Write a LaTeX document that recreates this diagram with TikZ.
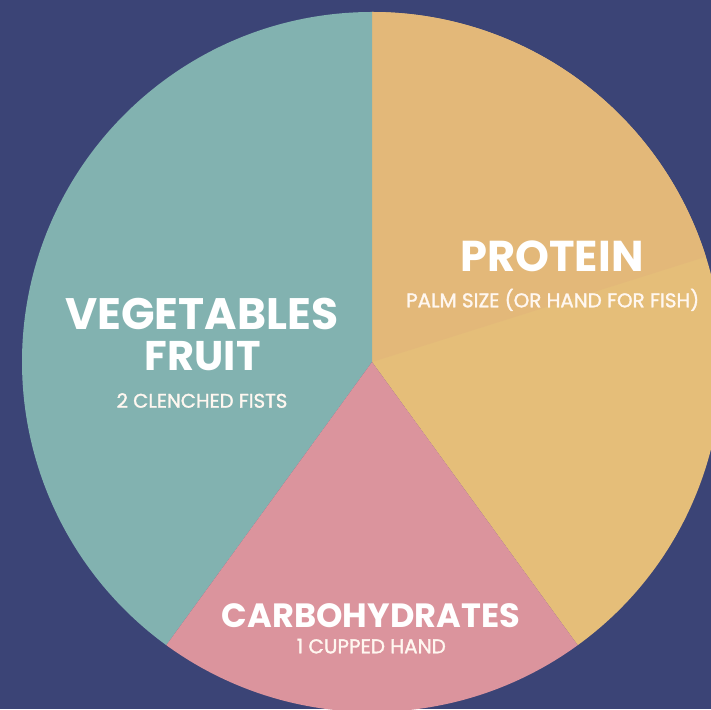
\documentclass[tikz,border=0pt]{standalone}
\usepackage{graphicx}
\usepackage{fontspec}
\setmainfont{Poppins}
\newfontfamily\subfont[FakeBold=1.6]{Poppins}
\definecolor{bgnavy}{RGB}{59,68,118}
\definecolor{vegteal}{RGB}{130,178,176}
\definecolor{protA}{RGB}{227,184,121}
\definecolor{protB}{RGB}{229,190,121}
\definecolor{carbpink}{RGB}{219,148,157}
\newcommand\fitwidth[2]{\resizebox{#1}{!}{#2}}
\tikzset{
  lbl/.style={text=white, inner sep=0pt, anchor=base},
  title/.style={lbl, font=\bfseries},
  sub/.style={lbl, text=white!94!orange, font=\subfont}
}
\begin{document}
\begin{tikzpicture}[x=1pt,y=1pt]
\useasboundingbox (0,0) rectangle (711,709);
\fill[bgnavy] (0,0) rectangle (711,709);
\begin{scope}
\clip (0,0) rectangle (711,709);
\coordinate (c) at (372,347);
\fill[protB] (c) -- ++(-54:350) arc[start angle=-54, end angle=90, radius=350] -- cycle;
\fill[protA] (c) -- ++(17.5:350) arc[start angle=17.5, end angle=90, radius=350] -- cycle;
\fill[vegteal] (c) -- ++(90:350) arc[start angle=90, end angle=234, radius=350] -- cycle;
\fill[carbpink] (c) -- ++(234:350) arc[start angle=234, end angle=306, radius=350] -- cycle;
\end{scope}
\node[title] (prot) at (552,437) {\fitwidth{183pt}{PROTEIN}};
\node[sub] (protsub) at (552.7,401.7) {\fitwidth{293pt}{PALM SIZE (OR HAND FOR FISH)}};
\node[title] (veg) at (201.7,379) {\fitwidth{273pt}{VEGETABLES}};
\node[title] (fruit) at (202.8,338) {\fitwidth{115.7pt}{FRUIT}};
\node[sub] (vegsub) at (202,301.3) {\fitwidth{170.7pt}{2 CLENCHED FISTS}};
\node[title] (carb) at (371,81.3) {\fitwidth{298pt}{CARBOHYDRATES}};
\node[sub] (carbsub) at (371.3,55.7) {\fitwidth{149pt}{1 CUPPED HAND}};
\end{tikzpicture}
\end{document}
